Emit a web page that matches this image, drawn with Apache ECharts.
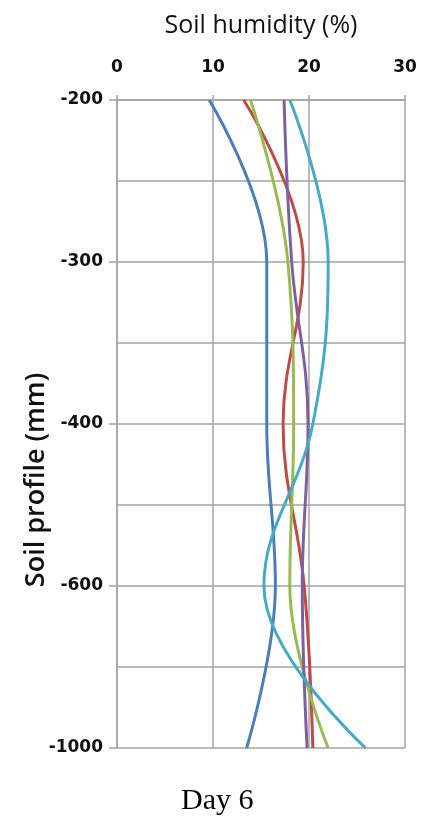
<!DOCTYPE html>
<html>
<head>
<meta charset="utf-8">
<script src="https://cdn.jsdelivr.net/npm/echarts@6/dist/echarts.min.js"></script>
<style>html,body{margin:0;padding:0;background:#fff}#c{width:428px;height:823px}</style>
</head>
<body>
<div id="c"></div>
<script>
// Depth levels (equally spaced positions on the profile axis)
var depthLabels = ['-200', '-300', '-400', '-600', '-1000'];
var depthPos = [0, 1, 2, 3, 4];
var xTicks = [0, 10, 20, 30];

// Soil humidity (%) at each depth
var blue   = [9.6, 15.6, 15.6, 16.5, 13.5];
var red    = [13.2, 19.4, 17.3, 19.5, 20.4];
var green  = [13.9, 17.8, 18.4, 18.0, 22.0];
var purple = [17.4, 18.2, 19.9, 19.3, 19.8];
var cyan   = [18.0, 22.0, 20.4, 15.3, 25.9];

var colors = ['#4a7ebb', '#be4b48', '#98b954', '#7d60a0', '#46aac5'];
var seriesData = [blue, red, green, purple, cyan];

function pairs(arr) {
  return arr.map(function (v, i) { return [v, depthPos[i]]; });
}

var chart = echarts.init(document.getElementById('c'), null, {renderer: 'canvas'});
var gridColor = '#a3a3a3';
chart.setOption({
  animation: false,
  backgroundColor: '#ffffff',
  title: {
    text: 'Day 6',
    left: 176,
    top: 781,
    textStyle: {fontFamily: 'Liberation Serif', fontSize: 30, fontWeight: 'normal', color: '#000'}
  },
  grid: {left: 117, right: 23, top: 100, bottom: 75},
  xAxis: {
    type: 'value',
    position: 'top',
    min: xTicks[0],
    max: xTicks[xTicks.length - 1],
    interval: 10,
    name: 'Soil humidity (%)',
    nameLocation: 'middle',
    nameGap: 62,
    nameMoveOverlap: false,
    nameTextStyle: {fontFamily: 'Open Sans', fontSize: 25, color: '#111'},
    axisLine: {show: true, lineStyle: {color: gridColor, width: 1.5}},
    axisTick: {show: true, length: 5, lineStyle: {color: gridColor, width: 1.5}},
    axisLabel: {margin: 24, fontFamily: 'DejaVu Sans', fontWeight: 'bold', fontSize: 17, color: '#111'},
    splitLine: {show: true, lineStyle: {color: gridColor, width: 1.5}}
  },
  yAxis: {
    type: 'value',
    inverse: true,
    min: 0,
    max: depthLabels.length - 1,
    interval: 1,
    name: 'Soil profile (mm)',
    nameLocation: 'middle',
    nameRotate: 90,
    nameGap: 67,
    nameMoveOverlap: false,
    nameTextStyle: {fontFamily: 'Open Sans', fontWeight: 600, fontSize: 27, color: '#111', padding: [0, 112, 0, 0]},
    axisLine: {show: true, lineStyle: {color: gridColor, width: 1.5}},
    axisTick: {show: true, length: 8, lineStyle: {color: gridColor, width: 1.5}},
    minorTick: {show: false, splitNumber: 2},
    minorSplitLine: {show: true, lineStyle: {color: gridColor, width: 1.5}},
    axisLabel: {
      margin: 14,
      fontFamily: 'DejaVu Sans', fontWeight: 'bold', fontSize: 17, color: '#111',
      formatter: function (v) { return depthLabels[Math.round(v)] || ''; }
    },
    splitLine: {show: true, lineStyle: {color: gridColor, width: 1.5}}
  },
  series: seriesData.map(function (d, i) {
    return {
      type: 'line',
      data: pairs(d),
      smooth: 0.4,
      showSymbol: false,
      symbol: 'none',
      lineStyle: {color: colors[i], width: 3},
      itemStyle: {color: colors[i]}
    };
  })
});
</script>
</body>
</html>
